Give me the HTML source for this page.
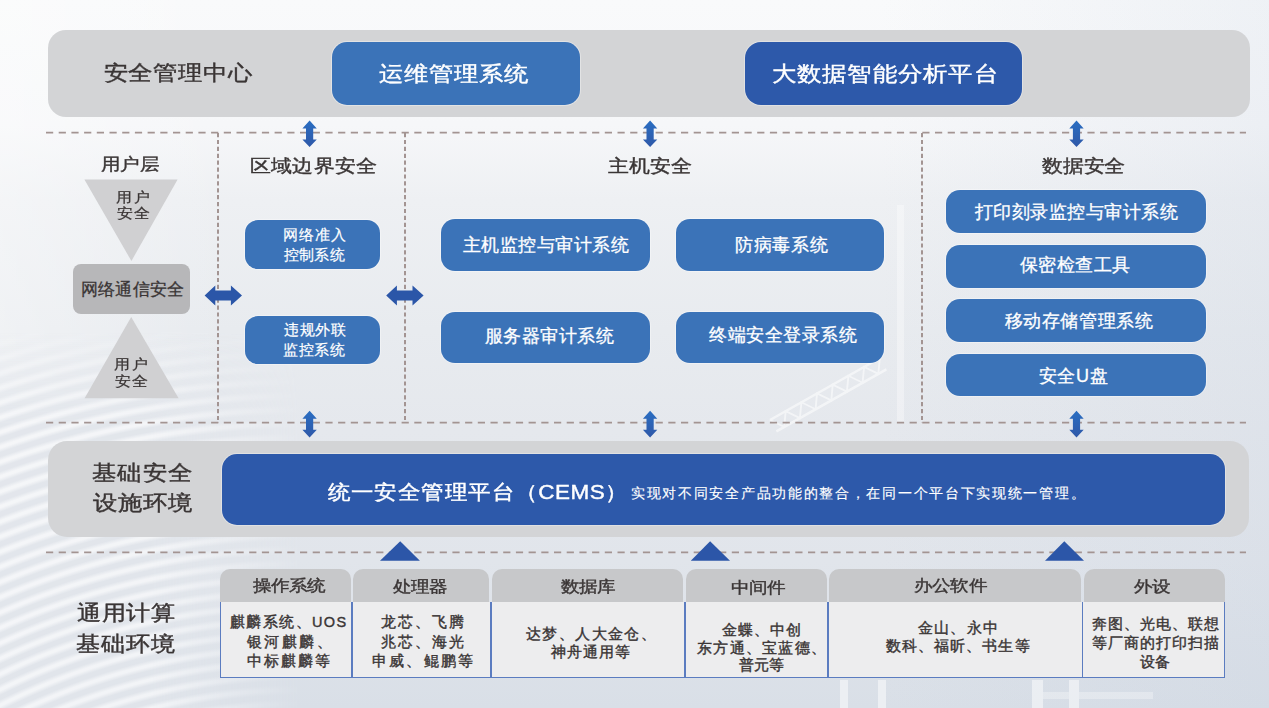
<!DOCTYPE html>
<html><head><meta charset="utf-8">
<style>
*{margin:0;padding:0;box-sizing:border-box}
html,body{width:1269px;height:708px;overflow:hidden}
body{position:relative;font-family:"Liberation Sans",sans-serif;background:#eceef2;color:#3a3535}
.a{position:absolute}
.bg{left:0;top:0;width:1269px;height:708px;background:
 linear-gradient(90deg,rgba(255,255,255,.35) 0,rgba(255,255,255,0) 230px,rgba(255,255,255,0) 880px,rgba(190,202,220,.18) 1269px),
 linear-gradient(180deg,#f9fafb 0px,#f6f7f9 125px,#eef0f3 200px,#e8ebef 330px,#e5e8ed 430px,#e1e5eb 560px,#d9dfe7 708px)}
.gray{background:#d3d4d6;border-radius:18px}
.blue{background:#3b73b8;box-shadow:0 0 0 1px rgba(255,255,255,.35)}
.dblue{background:#2d59aa;box-shadow:0 0 0 1px rgba(255,255,255,.3)}
.t{position:absolute;white-space:nowrap}
.th{position:absolute;background:#c7c8ca;border-radius:10px 10px 0 0}
.td{position:absolute;background:#ededee}
.vb{position:absolute;background:#5b7cc0;width:1.5px}
</style></head><body>
<div class="a bg"></div>
<div class="a" style="left:0;top:330px;width:300px;height:378px;background:repeating-radial-gradient(circle at 300px 970px,rgba(225,229,235,1) 0 3px,rgba(247,248,250,1) 7px 9px,rgba(225,229,235,1) 13px 14px);-webkit-mask-image:linear-gradient(90deg,#000 0,#000 50%,transparent 100%),linear-gradient(180deg,transparent 0,#000 25%);-webkit-mask-composite:source-in;mask-composite:intersect;opacity:.8"></div>
<svg class="a" style="left:0;top:0" width="1269" height="708">
 <g opacity=".55" fill="none" stroke="#fff">
  <path d="M770.0 420.0 L880.0 358.0 M776.4 431.3 L886.4 369.3" stroke-width="2.5"/>
  <path d="M770.0 420.0 L784.2 426.9 L785.7 411.2 L799.9 418.1 L801.4 402.3 L815.6 409.2 L817.0 393.5 L831.3 400.4 L832.7 384.6 L846.9 391.6 L848.4 375.8 L862.6 382.7 L864.1 367.0 L878.3 373.9 L879.8 358.1" stroke-width="1.8"/>
 </g>
 <rect x="897" y="205" width="7" height="218" fill="#fff" opacity=".35"/>
 <g fill="#fff" opacity=".5">
  <rect x="840" y="680" width="8" height="28"/>
  <rect x="878" y="680" width="8" height="28"/>
  <rect x="1032" y="680" width="11" height="28"/>
  <rect x="1069" y="680" width="10" height="28"/>
  <rect x="1043" y="692" width="110" height="7" opacity=".6"/>
 </g>
</svg>
<div class="a gray" style="left:48px;top:30px;width:1202px;height:87px"></div>
<div class="a blue" style="left:332px;top:42px;width:248px;height:63px;border-radius:15px"></div>
<div class="a dblue" style="left:745px;top:42px;width:277px;height:63px;border-radius:16px"></div>

<svg class="a" style="left:0;top:0" width="1269" height="708">
 <polygon points="84.4,179.5 177.6,179.5 131.4,261" fill="#d0d0d2"/>
 <polygon points="131.2,317 84.6,398.3 178.6,398.3" fill="#d0d0d2"/>
</svg>
<div class="a" style="left:73px;top:264px;width:117px;height:50px;background:#b7b7b9;border-radius:8px"></div>

<div class="a blue" style="left:245px;top:220px;width:135px;height:49px;border-radius:13px"></div>
<div class="a blue" style="left:245px;top:316px;width:135px;height:48px;border-radius:13px"></div>

<div class="a blue" style="left:441px;top:219px;width:209px;height:52px;border-radius:14px"></div>
<div class="a blue" style="left:676px;top:219px;width:208px;height:52px;border-radius:14px"></div>
<div class="a blue" style="left:441px;top:312px;width:209px;height:51px;border-radius:14px"></div>
<div class="a blue" style="left:676px;top:312px;width:208px;height:51px;border-radius:14px"></div>

<div class="a blue" style="left:946px;top:190px;width:260px;height:43px;border-radius:14px"></div>
<div class="a blue" style="left:946px;top:245px;width:260px;height:43px;border-radius:14px"></div>
<div class="a blue" style="left:946px;top:299px;width:260px;height:43px;border-radius:14px"></div>
<div class="a blue" style="left:946px;top:354px;width:260px;height:42px;border-radius:14px"></div>

<div class="a gray" style="left:48px;top:441px;width:1201px;height:96px;border-radius:19px"></div>
<div class="a dblue" style="left:222px;top:454px;width:1003px;height:71px;border-radius:15px"></div>

<div class="th" style="left:220px;top:569px;width:130.5px;height:33px"></div>
<div class="th" style="left:353px;top:569px;width:136px;height:33px"></div>
<div class="th" style="left:492px;top:569px;width:191px;height:33px"></div>
<div class="th" style="left:686px;top:569px;width:141px;height:33px"></div>
<div class="th" style="left:829px;top:569px;width:252px;height:33px"></div>
<div class="th" style="left:1084px;top:569px;width:140.5px;height:33px"></div>
<div class="td" style="left:220px;top:602px;width:1005px;height:76px;border:1.5px solid #5b7cc0;border-top:none"></div>
<div class="vb" style="left:351px;top:602px;height:76px"></div>
<div class="vb" style="left:490px;top:602px;height:76px"></div>
<div class="vb" style="left:684px;top:602px;height:76px"></div>
<div class="vb" style="left:827px;top:602px;height:76px"></div>
<div class="vb" style="left:1081.5px;top:602px;height:76px"></div>

<svg class="a" style="left:0;top:0" width="1269" height="708">
 <defs>
  <linearGradient id="ag" x1="0" y1="0" x2="0" y2="1"><stop offset="0" stop-color="#2a6ec2"/><stop offset="1" stop-color="#2f58a8"/></linearGradient>
  <g id="va"><polygon fill="url(#ag)" points="0,0 7.2,8 3.6,8 3.6,19 7.2,19 0,26.7 -7.2,19 -3.6,19 -3.6,8 -7.2,8"/></g>
  <g id="ha"><polygon fill="#2b56a8" points="0,0 10.7,-10 10.7,-5 26.3,-5 26.3,-10 37.4,0 26.3,10 26.3,5 10.7,5 10.7,10"/></g>
 </defs>
 <g stroke="#a39492" stroke-width="1.7" fill="none">
  <line x1="46" y1="132.6" x2="1246" y2="132.6" stroke-dasharray="7.2 5.5"/>
  <line x1="46" y1="422.7" x2="1246" y2="422.7" stroke-dasharray="7.2 5.5"/>
  <line x1="46" y1="552.4" x2="1246" y2="552.4" stroke-dasharray="7.2 5.5"/>
  <line x1="218" y1="133" x2="218" y2="423" stroke-dasharray="4.2 2.7" stroke-width="2"/>
  <line x1="405" y1="133" x2="405" y2="423" stroke-dasharray="4.2 2.7" stroke-width="2"/>
  <line x1="922" y1="133" x2="922" y2="423" stroke-dasharray="4.2 2.7" stroke-width="2"/>
 </g>
 <use href="#va" x="309.6" y="120.4"/>
 <use href="#va" x="650.1" y="120.4"/>
 <use href="#va" x="1076.5" y="120.4"/>
 <use href="#va" x="309.6" y="410.8"/>
 <use href="#va" x="650.1" y="410.8"/>
 <use href="#va" x="1076.5" y="410.8"/>
 <use href="#ha" x="204.6" y="295.4"/>
 <use href="#ha" x="386.2" y="295.4"/>
 <polygon fill="#2c56a8" points="400.2,541.3 419.9,560.7 380,560.7"/>
 <polygon fill="#2c56a8" points="710.1,541.3 730,560.7 690.8,560.7"/>
 <polygon fill="#2c56a8" points="1064.3,541.3 1084,560.7 1045,560.7"/>
</svg>
<div class="t" id="L0" style="left:103.50px;top:57.25px;font-size:24.5px;line-height:31.85px;letter-spacing:-0.10px;color:#3a3535;-webkit-text-stroke:0.45px #3a3535;transform:scaleY(0.860);transform-origin:0 50%;">安全管理中心</div>
<div class="t" id="L1" style="left:379.00px;top:58.00px;font-size:24.5px;line-height:31.85px;letter-spacing:0.10px;color:#ffffff;-webkit-text-stroke:0.45px #ffffff;transform:scaleY(0.860);transform-origin:0 50%;">运维管理系统</div>
<div class="t" id="L2" style="left:771.50px;top:57.50px;font-size:24.5px;line-height:31.85px;letter-spacing:0.28px;color:#ffffff;-webkit-text-stroke:0.45px #ffffff;transform:scaleY(0.860);transform-origin:0 50%;">大数据智能分析平台</div>
<div class="t" id="L3" style="left:101.00px;top:151.50px;font-size:19.5px;line-height:25.35px;letter-spacing:-0.75px;color:#3a3535;-webkit-text-stroke:0.45px #3a3535;transform:scaleY(0.870);transform-origin:0 50%;">用户层</div>
<div class="t" id="L4" style="left:250.00px;top:153.00px;font-size:20.5px;line-height:26.65px;letter-spacing:0.20px;color:#3a3535;-webkit-text-stroke:0.45px #3a3535;transform:scaleY(0.860);transform-origin:0 50%;">区域边界安全</div>
<div class="t" id="L5" style="left:608.00px;top:152.50px;font-size:20.5px;line-height:26.65px;letter-spacing:0.03px;color:#3a3535;-webkit-text-stroke:0.45px #3a3535;transform:scaleY(0.860);transform-origin:0 50%;">主机安全</div>
<div class="t" id="L6" style="left:1042.00px;top:152.50px;font-size:20.5px;line-height:26.65px;letter-spacing:-0.17px;color:#3a3535;-webkit-text-stroke:0.45px #3a3535;transform:scaleY(0.860);transform-origin:0 50%;">数据安全</div>
<div class="t" id="L7" style="left:116.00px;top:188.00px;font-size:16px;line-height:20.8px;letter-spacing:1.50px;color:#3a3535;-webkit-text-stroke:0.30px #3a3535;transform:scaleY(0.880);transform-origin:0 50%;">用户</div>
<div class="t" id="L8" style="left:117.00px;top:204.00px;font-size:16px;line-height:20.8px;letter-spacing:0.50px;color:#3a3535;-webkit-text-stroke:0.30px #3a3535;transform:scaleY(0.880);transform-origin:0 50%;">安全</div>
<div class="t" id="L9" style="left:81.00px;top:279.25px;font-size:16.5px;line-height:21.45px;letter-spacing:0.20px;color:#3a3535;-webkit-text-stroke:0.30px #3a3535;">网络通信安全</div>
<div class="t" id="L10" style="left:114.00px;top:355.00px;font-size:16px;line-height:20.8px;letter-spacing:1.50px;color:#3a3535;-webkit-text-stroke:0.30px #3a3535;transform:scaleY(0.880);transform-origin:0 50%;">用户</div>
<div class="t" id="L11" style="left:115.00px;top:372.00px;font-size:16px;line-height:20.8px;letter-spacing:0.50px;color:#3a3535;-webkit-text-stroke:0.30px #3a3535;transform:scaleY(0.880);transform-origin:0 50%;">安全</div>
<div class="t" id="L12" style="left:283.00px;top:225.00px;font-size:15px;line-height:19.5px;letter-spacing:0.84px;color:#ffffff;-webkit-text-stroke:0.20px #ffffff;">网络准入</div>
<div class="t" id="L13" style="left:284.00px;top:245.00px;font-size:15px;line-height:19.5px;letter-spacing:0.20px;color:#ffffff;-webkit-text-stroke:0.20px #ffffff;">控制系统</div>
<div class="t" id="L14" style="left:284.00px;top:320.00px;font-size:15px;line-height:19.5px;letter-spacing:0.53px;color:#ffffff;-webkit-text-stroke:0.20px #ffffff;">违规外联</div>
<div class="t" id="L15" style="left:283.00px;top:339.75px;font-size:15px;line-height:19.5px;letter-spacing:0.63px;color:#ffffff;-webkit-text-stroke:0.20px #ffffff;">监控系统</div>
<div class="t" id="L16" style="left:462.50px;top:234.00px;font-size:18px;line-height:23.4px;letter-spacing:0.52px;color:#ffffff;-webkit-text-stroke:0.30px #ffffff;">主机监控与审计系统</div>
<div class="t" id="L17" style="left:735.00px;top:233.50px;font-size:18px;line-height:23.4px;letter-spacing:0.71px;color:#ffffff;-webkit-text-stroke:0.30px #ffffff;">防病毒系统</div>
<div class="t" id="L18" style="left:484.50px;top:325.25px;font-size:18px;line-height:23.4px;letter-spacing:0.51px;color:#ffffff;-webkit-text-stroke:0.30px #ffffff;">服务器审计系统</div>
<div class="t" id="L19" style="left:709.00px;top:324.25px;font-size:18px;line-height:23.4px;letter-spacing:0.58px;color:#ffffff;-webkit-text-stroke:0.30px #ffffff;">终端安全登录系统</div>
<div class="t" id="L20" style="left:974.50px;top:201.00px;font-size:18px;line-height:23.4px;letter-spacing:0.55px;color:#ffffff;-webkit-text-stroke:0.30px #ffffff;">打印刻录监控与审计系统</div>
<div class="t" id="L21" style="left:1020.00px;top:254.00px;font-size:18px;line-height:23.4px;letter-spacing:0.40px;color:#ffffff;-webkit-text-stroke:0.30px #ffffff;">保密检查工具</div>
<div class="t" id="L22" style="left:1004.50px;top:310.00px;font-size:18px;line-height:23.4px;letter-spacing:0.62px;color:#ffffff;-webkit-text-stroke:0.30px #ffffff;">移动存储管理系统</div>
<div class="t" id="L23" style="left:1038.50px;top:365.00px;font-size:18px;line-height:23.4px;letter-spacing:0.74px;color:#ffffff;-webkit-text-stroke:0.30px #ffffff;">安全U盘</div>
<div class="t" id="L24" style="left:92.00px;top:457.25px;font-size:24px;line-height:31.2px;letter-spacing:1.30px;color:#3a3535;-webkit-text-stroke:0.45px #3a3535;transform:scaleY(0.860);transform-origin:0 50%;">基础安全</div>
<div class="t" id="L25" style="left:93.00px;top:486.50px;font-size:24px;line-height:31.2px;letter-spacing:1.11px;color:#3a3535;-webkit-text-stroke:0.45px #3a3535;transform:scaleY(0.860);transform-origin:0 50%;">设施环境</div>
<div class="t" id="L26" style="left:327.50px;top:477.75px;font-size:22.5px;line-height:29.25px;letter-spacing:0.43px;color:#ffffff;-webkit-text-stroke:0.45px #ffffff;transform:scaleY(0.890);transform-origin:0 50%;">统一安全管理平台（CEMS）</div>
<div class="t" id="L27" style="left:631.00px;top:484.25px;font-size:14px;line-height:18.2px;letter-spacing:1.70px;color:#ffffff;-webkit-text-stroke:0.15px #ffffff;">实现对不同安全产品功能的整合，在同一个平台下实现统一管理。</div>
<div class="t" id="L28" style="left:77.00px;top:597.25px;font-size:24px;line-height:31.2px;letter-spacing:0.67px;color:#3a3535;-webkit-text-stroke:0.45px #3a3535;transform:scaleY(0.870);transform-origin:0 50%;">通用计算</div>
<div class="t" id="L29" style="left:76.00px;top:627.50px;font-size:24px;line-height:31.2px;letter-spacing:1.01px;color:#3a3535;-webkit-text-stroke:0.45px #3a3535;transform:scaleY(0.870);transform-origin:0 50%;">基础环境</div>
<div class="t" id="L30" style="left:253.00px;top:574.25px;font-size:18.5px;line-height:24.05px;letter-spacing:-1.10px;color:#3a3535;-webkit-text-stroke:0.45px #3a3535;transform:scaleY(0.860);transform-origin:0 50%;">操作系统</div>
<div class="t" id="L31" style="left:393.00px;top:574.75px;font-size:18.5px;line-height:24.05px;letter-spacing:-1.25px;color:#3a3535;-webkit-text-stroke:0.45px #3a3535;transform:scaleY(0.860);transform-origin:0 50%;">处理器</div>
<div class="t" id="L32" style="left:561.00px;top:574.50px;font-size:18.5px;line-height:24.05px;letter-spacing:-1.00px;color:#3a3535;-webkit-text-stroke:0.45px #3a3535;transform:scaleY(0.860);transform-origin:0 50%;">数据库</div>
<div class="t" id="L33" style="left:730.50px;top:575.50px;font-size:18.5px;line-height:24.05px;letter-spacing:-1.00px;color:#3a3535;-webkit-text-stroke:0.45px #3a3535;transform:scaleY(0.860);transform-origin:0 50%;">中间件</div>
<div class="t" id="L34" style="left:913.50px;top:574.00px;font-size:18.5px;line-height:24.05px;letter-spacing:-0.64px;color:#3a3535;-webkit-text-stroke:0.45px #3a3535;transform:scaleY(0.860);transform-origin:0 50%;">办公软件</div>
<div class="t" id="L35" style="left:1134.00px;top:574.50px;font-size:18.5px;line-height:24.05px;letter-spacing:-0.80px;color:#3a3535;-webkit-text-stroke:0.45px #3a3535;transform:scaleY(0.860);transform-origin:0 50%;">外设</div>
<div class="t" id="L36" style="left:230.00px;top:613.25px;font-size:14.5px;line-height:18.85px;letter-spacing:1.38px;color:#3a3535;-webkit-text-stroke:0.40px #3a3535;">麒麟系统、UOS</div>
<div class="t" id="L37" style="left:246.50px;top:632.50px;font-size:14.5px;line-height:18.85px;letter-spacing:2.51px;color:#3a3535;-webkit-text-stroke:0.40px #3a3535;">银河麒麟、</div>
<div class="t" id="L38" style="left:246.50px;top:651.50px;font-size:14.5px;line-height:18.85px;letter-spacing:2.15px;color:#3a3535;-webkit-text-stroke:0.40px #3a3535;">中标麒麟等</div>
<div class="t" id="L39" style="left:380.50px;top:613.25px;font-size:14.5px;line-height:18.85px;letter-spacing:2.15px;color:#3a3535;-webkit-text-stroke:0.40px #3a3535;">龙芯、飞腾</div>
<div class="t" id="L40" style="left:380.50px;top:632.50px;font-size:14.5px;line-height:18.85px;letter-spacing:2.15px;color:#3a3535;-webkit-text-stroke:0.40px #3a3535;">兆芯、海光</div>
<div class="t" id="L41" style="left:372.00px;top:651.50px;font-size:14.5px;line-height:18.85px;letter-spacing:2.20px;color:#3a3535;-webkit-text-stroke:0.40px #3a3535;">申威、鲲鹏等</div>
<div class="t" id="L42" style="left:526.00px;top:625.00px;font-size:14.5px;line-height:18.85px;letter-spacing:1.41px;color:#3a3535;-webkit-text-stroke:0.40px #3a3535;">达梦、人大金仓、</div>
<div class="t" id="L43" style="left:551.00px;top:642.50px;font-size:14.5px;line-height:18.85px;letter-spacing:1.00px;color:#3a3535;-webkit-text-stroke:0.40px #3a3535;">神舟通用等</div>
<div class="t" id="L44" style="left:722.00px;top:620.75px;font-size:14.5px;line-height:18.85px;letter-spacing:0.95px;color:#3a3535;-webkit-text-stroke:0.40px #3a3535;">金蝶、中创</div>
<div class="t" id="L45" style="left:697.00px;top:638.50px;font-size:14.5px;line-height:18.85px;letter-spacing:1.29px;color:#3a3535;-webkit-text-stroke:0.40px #3a3535;">东方通、宝蓝德、</div>
<div class="t" id="L46" style="left:738.50px;top:655.75px;font-size:14.5px;line-height:18.85px;letter-spacing:0.45px;color:#3a3535;-webkit-text-stroke:0.40px #3a3535;">普元等</div>
<div class="t" id="L47" style="left:918.00px;top:618.75px;font-size:14.5px;line-height:18.85px;letter-spacing:1.20px;color:#3a3535;-webkit-text-stroke:0.40px #3a3535;">金山、永中</div>
<div class="t" id="L48" style="left:885.50px;top:636.75px;font-size:14.5px;line-height:18.85px;letter-spacing:1.14px;color:#3a3535;-webkit-text-stroke:0.40px #3a3535;">数科、福昕、书生等</div>
<div class="t" id="L49" style="left:1092.00px;top:615.25px;font-size:14.5px;line-height:18.85px;letter-spacing:1.00px;color:#3a3535;-webkit-text-stroke:0.40px #3a3535;">奔图、光电、联想</div>
<div class="t" id="L50" style="left:1092.00px;top:634.25px;font-size:14.5px;line-height:18.85px;letter-spacing:1.00px;color:#3a3535;-webkit-text-stroke:0.40px #3a3535;">等厂商的打印扫描</div>
<div class="t" id="L51" style="left:1140.00px;top:652.75px;font-size:14.5px;line-height:18.85px;letter-spacing:0.20px;color:#3a3535;-webkit-text-stroke:0.40px #3a3535;">设备</div>
</body></html>
